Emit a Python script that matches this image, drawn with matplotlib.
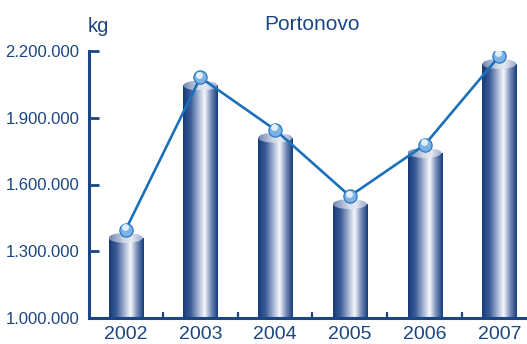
import numpy as np
import matplotlib
matplotlib.use("Agg")
import matplotlib.pyplot as plt
from matplotlib.patches import Rectangle, Ellipse
from matplotlib.colors import LinearSegmentedColormap
from matplotlib.ticker import FuncFormatter, FixedLocator
import matplotlib.transforms as mtransforms

plt.rcParams['font.family'] = ['Liberation Sans', 'DejaVu Sans']

# data (kg)
years = ['2002', '2003', '2004', '2005', '2006', '2007']
values = [1360000, 2045000, 1810000, 1512000, 1742000, 2142000]
yticks = [1000000, 1300000, 1600000, 1900000, 2200000]

navy = '#1a4684'
line_blue = '#1b70bb'
ymin, ymax = 1000000, 2200000

fig = plt.figure(figsize=(5.27, 3.44), dpi=100)
ax = fig.add_axes([89 / 527, 26 / 344, 438 / 527, 267 / 344])

# cylinder side + cap gradients
side_cmap = LinearSegmentedColormap.from_list(
    'side', [(0, '#153a7a'), (0.22, '#3d5d98'), (0.45, '#a9b7d4'),
             (0.62, '#f7f8fc'), (0.8, '#7a8fb9'), (1, '#153a7a')])
cap_cmap = LinearSegmentedColormap.from_list(
    'cap', [(0, '#7084b0'), (0.45, '#d3dbe9'), (0.65, '#e6ebf3'), (1, '#92a3c6')])
grad = np.linspace(0, 1, 256).reshape(1, -1)

w = 0.455
cap_h = 45000
x = np.arange(len(years))
for xi, v in zip(x, values):
    rect = Rectangle((xi - w / 2, ymin), w, v - ymin, facecolor='none', edgecolor='none')
    ax.add_patch(rect)
    im = ax.imshow(grad, cmap=side_cmap, aspect='auto', zorder=2,
                   extent=(xi - w / 2, xi + w / 2, ymin, v))
    im.set_clip_path(rect)
    cap = Ellipse((xi, v), w, cap_h, facecolor='none', edgecolor='none')
    ax.add_patch(cap)
    imc = ax.imshow(grad, cmap=cap_cmap, aspect='auto', zorder=3,
                    extent=(xi - w / 2, xi + w / 2, v - cap_h / 2, v + cap_h / 2))
    imc.set_clip_path(cap)

# line with spheres sitting on the caps
up = mtransforms.offset_copy(ax.transData, fig=fig, x=0, y=8, units='dots')
ax.plot(x, values, color=line_blue, lw=1.9, zorder=4, transform=up)
ax.plot(x, values, 'o', ms=9.5, mfc='#7db2e4', mec='#2c78c2', mew=0.9,
        zorder=5, transform=up)
hl = mtransforms.offset_copy(ax.transData, fig=fig, x=-1, y=10.5, units='dots')
ax.plot(x, values, 'o', ms=5, mfc='#eef5fc', mec='none', alpha=0.9,
        zorder=6, transform=hl)

ax.set_xlim(-0.49, 5.37)
ax.set_ylim(ymin, ymax)

ax.set_yticks(yticks)
ax.yaxis.set_major_formatter(FuncFormatter(lambda v, p: f'{int(v):,}'.replace(',', '.')))
ax.tick_params(axis='y', direction='in', length=7.5, width=2, color=navy,
               labelcolor=navy, labelsize=12, pad=7)

ax.set_xticks(x)
ax.set_xticklabels(years)
ax.xaxis.set_minor_locator(FixedLocator(x[:-1] + 0.5))
ax.tick_params(axis='x', which='major', length=0, labelcolor=navy, labelsize=14, pad=6)
ax.tick_params(axis='x', which='minor', direction='in', length=4.5, width=1.6, color=navy)

for s in ['top', 'right']:
    ax.spines[s].set_visible(False)
for s in ['left', 'bottom']:
    ax.spines[s].set_color(navy)
    ax.spines[s].set_linewidth(2.2)

fig.text(312 / 527, 1 - 25 / 344, 'Portonovo', ha='center', va='center',
         fontsize=15, color=navy)
fig.text(98 / 527, 1 - 27 / 344, 'kg', ha='center', va='center',
         fontsize=14.5, color=navy)

fig.savefig('out.png', dpi=100)
